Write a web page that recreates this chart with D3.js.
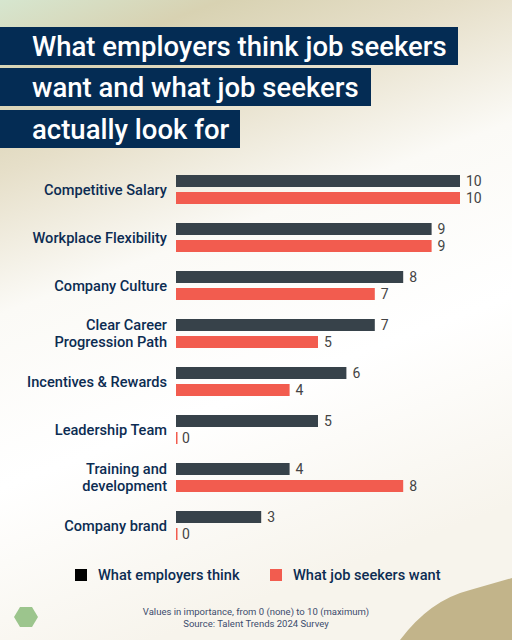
<!DOCTYPE html>
<html><head><meta charset="utf-8">
<script src="https://cdn.jsdelivr.net/npm/d3@7"></script>
<style>body{margin:0}svg{display:block}</style></head>
<body><svg id="c" width="512" height="640"></svg>
<script>
const categories=["Competitive Salary","Workplace Flexibility","Company Culture","Clear Career|Progression Path","Incentives & Rewards","Leadership Team","Training and|development","Company brand"];
const employers=[10,9,8,7,6,5,4,3];
const seekers=[10,9,7,5,4,0,8,0];
const titleLines=["What employers think job seekers","want and what job seekers","actually look for"];
const seriesNames=["What employers think","What job seekers want"];
const colors=["#37424a","#f25c4f"];

const svg=d3.select("#c");
const defs=svg.append("defs");
const g1=defs.append("linearGradient").attr("id","bg").attr("x1",0).attr("y1",0).attr("x2",0.3).attr("y2",1);
[[0,"#d6e6cf"],[0.12,"#d8d2b2"],[0.25,"#e6dfc9"],[0.45,"#fbfaf6"],[0.7,"#ffffff"],[1,"#f7f4ec"]].forEach(s=>g1.append("stop").attr("offset",s[0]).attr("stop-color",s[1]));
svg.append("rect").attr("width",512).attr("height",640).attr("fill","url(#bg)");
svg.append("path").attr("d","M400,640 Q430,600 470,590 L512,578 L512,640 Z").attr("fill","#c2b48a");
svg.append("path").attr("d","M14,617 l6,-10 h12 l6,10 l-6,10 h-12 Z").attr("fill","#9cc58d");

const tb=[[27,458],[68,371],[110,240]];
titleLines.forEach((t,i)=>{
  svg.append("rect").attr("x",0).attr("y",tb[i][0]).attr("width",tb[i][1]).attr("height",38).attr("fill","#042c54");
  svg.append("text").attr("x",32).attr("y",tb[i][0]+29).text(t).attr("fill","#fff")
    .attr("font-family","Roboto").attr("font-weight",500).attr("font-size",27.5);
});

const x=d3.scaleLinear().domain([0,10]).range([176,460]);
const y=d3.scaleBand().domain(categories).range([172,556]).paddingInner(0);
const bh=12;
categories.forEach((c,i)=>{
  const y0=y(c)+3;
  [employers[i],seekers[i]].forEach((v,j)=>{
    const yy=y0+j*17;
    svg.append("rect").attr("x",x(0)).attr("y",yy).attr("width",Math.max(x(v)-x(0),1.5)).attr("height",bh).attr("fill",colors[j]);
    svg.append("text").attr("x",x(v)+6).attr("y",yy+11).text(v).attr("fill","#444")
      .attr("font-family","Roboto").attr("font-size",14);
  });
  const parts=c.split("|");
  const cy=y0+14.5;
  parts.forEach((p,k)=>{
    svg.append("text").attr("x",167).attr("y",cy+5+(k-(parts.length-1)/2)*17).attr("text-anchor","end")
      .text(p).attr("fill","#0c2c52").attr("font-family","Roboto").attr("font-weight",500).attr("font-size",14.6);
  });
});

const lx=[75,270];
seriesNames.forEach((s,i)=>{
  svg.append("rect").attr("x",lx[i]).attr("y",569).attr("width",12).attr("height",12).attr("fill",i?colors[1]:"#000");
  svg.append("text").attr("x",lx[i]+23).attr("y",580).text(s).attr("fill","#0c2c52")
    .attr("font-family","Roboto").attr("font-weight",500).attr("font-size",14.6);
});
["Values in importance, from 0 (none) to 10 (maximum)","Source: Talent Trends 2024 Survey"].forEach((t,i)=>{
  svg.append("text").attr("x",256).attr("y",615+i*12).attr("text-anchor","middle").text(t)
    .attr("fill","#3c4c6c").attr("font-family","Roboto").attr("font-size",9.5);
});
</script></body></html>
